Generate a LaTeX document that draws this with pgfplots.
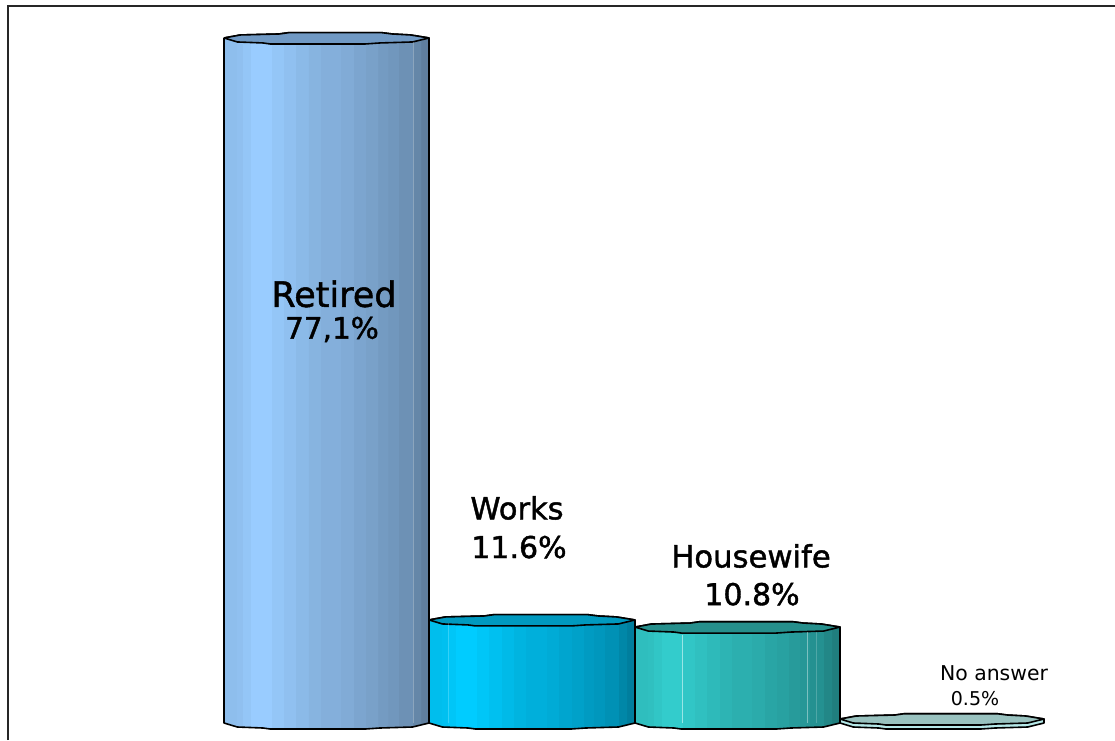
\documentclass[border=0pt]{standalone}
\usepackage{fontspec}
\setmainfont{DejaVu Sans}
\newfontfamily\heavy{DejaVu Sans}[FakeBold=1.4]
\usepackage{pgfplots}
\usepackage{pgfplotstable}
\pgfplotsset{compat=1.18}
\newcommand\mkshade[2]{%
\pgfdeclarehorizontalshading{#1}{100bp}{%
color(0bp)=(#2!93!black);color(28bp)=(#2!93!black);
color(28bp)=(#2!94!black);color(29.5bp)=(#2!94!black);
color(29.5bp)=(#2!97!black);color(31.5bp)=(#2!97!black);
color(31.5bp)=(#2);color(36.5bp)=(#2);
color(36.5bp)=(#2!97!black);color(39.5bp)=(#2!97!black);
color(39.5bp)=(#2!94!black);color(42.5bp)=(#2!94!black);
color(42.5bp)=(#2!91!black);color(45.5bp)=(#2!91!black);
color(45.5bp)=(#2!88!black);color(48.5bp)=(#2!88!black);
color(48.5bp)=(#2!86!black);color(53.5bp)=(#2!86!black);
color(53.5bp)=(#2!84!black);color(56.5bp)=(#2!84!black);
color(56.5bp)=(#2!81!black);color(59.5bp)=(#2!81!black);
color(59.5bp)=(#2!79!black);color(62.5bp)=(#2!79!black);
color(62.5bp)=(#2!76!black);color(65bp)=(#2!76!black);
color(65bp)=(#2!74!black);color(67.5bp)=(#2!74!black);
color(67.5bp)=(#2!71!black);color(71bp)=(#2!71!black);
color(71bp)=(#2!66!black);color(73bp)=(#2!66!black);
color(73bp)=(#2!62!black);color(100bp)=(#2!62!black)}}
\definecolor{cRet}{HTML}{99CCFF}
\definecolor{cWor}{HTML}{00CCFF}
\definecolor{cHou}{HTML}{33CCCC}
\definecolor{capRet}{HTML}{7099C4}
\definecolor{capWor}{HTML}{0099BF}
\definecolor{capHou}{HTML}{268F8C}
\definecolor{capNoa}{HTML}{99C2BF}
\definecolor{bodyNoa}{HTML}{B5E8E8}
\mkshade{shRet}{cRet}
\mkshade{shWor}{cWor}
\mkshade{shHou}{cHou}
% outline of a cylinder: f = share of width, h = 1 at value / 0 at base, d = rim offset in px
\pgfplotstableread{
f h d
0 1 0
.08 1 3
.27 1 4
.315 1 5.3
.77 1 5.3
.82 1 4
.91 1 3
1 1 0
1 0 0
.92 0 -4
.76 0 -5
.69 0 -6
.225 0 -6
.19 0 -5
.065 0 -4
0 0 0
0 1 0
}\bodytab
\pgfplotstableread{
f h d
0 1 0
.08 1 3
.27 1 4
.315 1 5.3
.77 1 5.3
.82 1 4
.91 1 3
1 1 0
.92 1 -4
.76 1 -5
.69 1 -6
.225 1 -6
.19 1 -5
.065 1 -4
0 1 0
}\captab
\newcommand\cyl[5]{% left x, width, value, body style, cap colour
\addplot[draw=black,line width=1.6pt,line join=round,#4,forget plot,no marks,sharp plot]
  table[x expr={#1+\thisrow{f}*#2},y expr={#3*\thisrow{h}+\thisrow{d}/8.885}]{\bodytab};
\addplot[draw=black,line width=1.6pt,line join=round,fill=#5,forget plot,no marks,sharp plot]
  table[x expr={#1+\thisrow{f}*#2},y expr={#3*\thisrow{h}+\thisrow{d}/8.885}]{\captab};
}
\newcommand\fs[1]{\fontsize{#1}{#1}\selectfont}
\begin{document}
\begin{tikzpicture}[x=1pt,y=1pt]
\begin{axis}[
  at={(0,0)},anchor=south west,
  scale only axis,width=1115pt,height=740pt,
  xmin=0,xmax=1115,ymin=-1.913,ymax=81.373,
  axis lines=none,clip=true]
\cyl{224}{205}{77.1}{shade,shading=shRet}{capRet}
\cyl{429}{206}{11.6}{shade,shading=shWor}{capWor}
\cyl{635}{205}{10.8}{shade,shading=shHou}{capHou}
\cyl{840}{204}{0.45}{fill=bodyNoa}{capNoa}
% faint facet edges
\addplot[white,opacity=.5,line width=.8pt,forget plot,no marks] coordinates {(682,0) (682,9.9)};
\addplot[white,opacity=.4,line width=.8pt,forget plot,no marks] coordinates {(807,0) (807,10.2)};
\addplot[white,opacity=.2,line width=.8pt,forget plot,no marks] coordinates {(816,0) (816,10.2)};
\addplot[white,opacity=.25,line width=.8pt,forget plot,no marks] coordinates {(413,0) (413,76.7)};
\addplot[white,opacity=.2,line width=.8pt,forget plot,no marks] coordinates {(448,0) (448,11.2)};
% frame
\draw[black!85,line width=2pt] (axis cs:8,-1.913) -- (axis cs:8,80.73) -- (axis cs:1115,80.73);
% labels
\node[inner sep=0pt] at (axis cs:334,48.3) {\heavy\fs{35}Retired};
\node[inner sep=0pt] at (axis cs:332,44.3) {\heavy\fs{29.5}77,1\%};
\node[inner sep=0pt] at (axis cs:517,24.2) {\heavy\fs{30.5}Works};
\node[inner sep=0pt] at (axis cs:519,19.8) {\heavy\fs{30}11.6\%};
\node[inner sep=0pt] at (axis cs:751,18.8) {\heavy\fs{30.7}Housewife};
\node[inner sep=0pt] at (axis cs:752,14.5) {\heavy\fs{30}10.8\%};
\node[inner sep=0pt] at (axis cs:994,5.6) {\fs{20.4}No answer};
\node[inner sep=0pt] at (axis cs:975,2.7) {\fs{19}0.5\%};
\end{axis}
\useasboundingbox (0,0) rectangle (1115pt,740pt);
\end{tikzpicture}
\end{document}
